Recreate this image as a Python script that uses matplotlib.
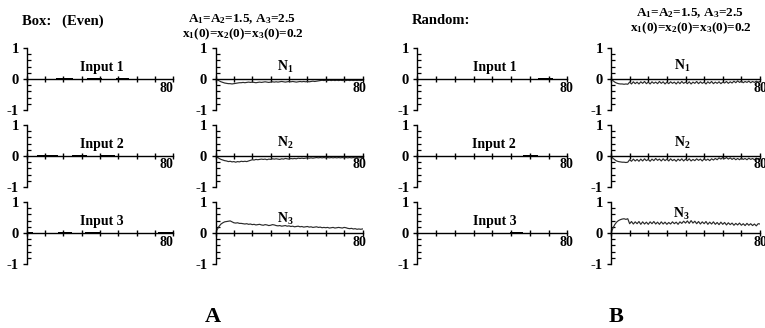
import matplotlib
matplotlib.use("Agg")
import matplotlib.pyplot as plt
from matplotlib.ticker import MultipleLocator

plt.rcParams['font.family'] = ['Liberation Serif', 'DejaVu Serif']
plt.rcParams['font.weight'] = 'bold'
plt.rcParams['mathtext.fontset'] = 'custom'
plt.rcParams['mathtext.rm'] = 'Liberation Serif:bold'
plt.rcParams['mathtext.it'] = 'Liberation Serif:bold'
plt.rcParams['mathtext.bf'] = 'Liberation Serif:bold'

# ---------------- data ----------------
t = list(range(81))

# input boxes (start, end) for each input, panel A (Box, even) and B (random)
inA1 = [(16, 25), (33, 41), (49, 56)]
inA2 = [(5.5, 17), (24.5, 33), (40, 48)]
inA3 = [(0, 3.5), (17, 24.5), (32, 40), (72, 80)]
inB1 = [(64.5, 72.5)]
inB2 = [(56.5, 64.5)]
inB3 = [(49.5, 56.5)]
box_height = 0.035

nA1 = [0, -0.03, -0.06, -0.09, -0.11, -0.13, -0.14, -0.15, -0.15, -0.16,
       -0.15, -0.14, -0.13, -0.12, -0.12, -0.11, -0.12, -0.11, -0.10, -0.11,
       -0.10, -0.11, -0.12, -0.11, -0.10, -0.11, -0.10, -0.09, -0.10, -0.11,
       -0.10, -0.09, -0.10, -0.09, -0.10, -0.09, -0.08, -0.09, -0.10, -0.09,
       -0.08, -0.09, -0.08, -0.09, -0.10, -0.09, -0.08, -0.09, -0.08, -0.09,
       -0.08, -0.09, -0.08, -0.07, -0.08, -0.07, -0.06, -0.05, -0.04, -0.05,
       -0.04, -0.05, -0.04, -0.05, -0.04, -0.05, -0.04, -0.05, -0.04, -0.05,
       -0.04, -0.05, -0.04, -0.05, -0.04, -0.05, -0.04, -0.05, -0.04, -0.05,
       -0.04]
nA2 = [0, -0.04, -0.08, -0.11, -0.13, -0.15, -0.16, -0.18, -0.17, -0.19,
       -0.18, -0.20, -0.18, -0.19, -0.17, -0.18, -0.17, -0.18, -0.16, -0.14,
       -0.12, -0.13, -0.11, -0.12, -0.11, -0.10, -0.11, -0.10, -0.12, -0.10,
       -0.11, -0.09, -0.10, -0.09, -0.10, -0.11, -0.09, -0.10, -0.08, -0.09,
       -0.10, -0.08, -0.09, -0.08, -0.09, -0.07, -0.08, -0.07, -0.08, -0.07,
       -0.06, -0.07, -0.06, -0.07, -0.06, -0.05, -0.06, -0.05, -0.06, -0.05,
       -0.06, -0.05, -0.06, -0.05, -0.06, -0.05, -0.06, -0.05, -0.06, -0.05,
       -0.06, -0.05, -0.06, -0.05, -0.06, -0.05, -0.06, -0.05, -0.06, -0.05,
       -0.05]
nA3 = [0, 0.12, 0.22, 0.29, 0.33, 0.36, 0.37, 0.38, 0.39, 0.36,
       0.33, 0.32, 0.33, 0.31, 0.31, 0.30, 0.29, 0.30, 0.28, 0.29,
       0.27, 0.28, 0.26, 0.27, 0.28, 0.26, 0.25, 0.27, 0.26, 0.24,
       0.25, 0.27, 0.26, 0.24, 0.23, 0.24, 0.22, 0.23, 0.24, 0.22,
       0.23, 0.21, 0.22, 0.20, 0.21, 0.22, 0.20, 0.21, 0.19, 0.20,
       0.21, 0.19, 0.20, 0.18, 0.19, 0.20, 0.18, 0.19, 0.17, 0.18,
       0.17, 0.18, 0.16, 0.17, 0.18, 0.16, 0.17, 0.18, 0.17, 0.16,
       0.18, 0.17, 0.15, 0.14, 0.15, 0.13, 0.14, 0.12, 0.13, 0.12,
       0.13]
nB1 = [0, -0.05, -0.10, -0.13, -0.15, -0.16, -0.16, -0.17, -0.16, -0.17,
       -0.10, -0.16, -0.09, -0.15, -0.10, -0.16, -0.09, -0.14, -0.08, -0.15,
       -0.10, -0.16, -0.09, -0.14, -0.10, -0.15, -0.08, -0.14, -0.09, -0.16,
       -0.10, -0.15, -0.09, -0.14, -0.10, -0.16, -0.09, -0.15, -0.08, -0.14,
       -0.10, -0.15, -0.09, -0.16, -0.10, -0.14, -0.08, -0.15, -0.09, -0.14,
       -0.10, -0.16, -0.09, -0.14, -0.08, -0.15, -0.10, -0.14, -0.09, -0.15,
       -0.10, -0.13, -0.08, -0.14, -0.09, -0.13, -0.07, -0.12, -0.06, -0.11,
       -0.07, -0.12, -0.08, -0.11, -0.07, -0.12, -0.08, -0.11, -0.07, -0.10,
       -0.08]
nB2 = [0, -0.07, -0.12, -0.16, -0.18, -0.19, -0.20, -0.20, -0.21, -0.20,
       -0.12, -0.17, -0.10, -0.16, -0.11, -0.17, -0.10, -0.16, -0.09, -0.15,
       -0.11, -0.17, -0.10, -0.15, -0.08, -0.14, -0.10, -0.16, -0.09, -0.15,
       -0.10, -0.16, -0.09, -0.15, -0.11, -0.17, -0.10, -0.15, -0.09, -0.16,
       -0.10, -0.15, -0.09, -0.16, -0.11, -0.15, -0.09, -0.14, -0.10, -0.16,
       -0.09, -0.14, -0.10, -0.15, -0.09, -0.13, -0.08, -0.12, -0.06, -0.10,
       -0.05, -0.09, -0.05, -0.10, -0.06, -0.11, -0.07, -0.12, -0.08, -0.12,
       -0.07, -0.11, -0.08, -0.12, -0.07, -0.11, -0.08, -0.12, -0.07, -0.11,
       -0.09]
nB3 = [0, 0.15, 0.27, 0.35, 0.40, 0.43, 0.45, 0.46, 0.44, 0.46,
       0.30, 0.37, 0.29, 0.36, 0.30, 0.37, 0.28, 0.36, 0.29, 0.35,
       0.28, 0.36, 0.30, 0.37, 0.29, 0.35, 0.28, 0.36, 0.29, 0.35,
       0.28, 0.34, 0.29, 0.36, 0.30, 0.35, 0.28, 0.36, 0.31, 0.38,
       0.32, 0.39, 0.31, 0.40, 0.32, 0.38, 0.30, 0.37, 0.29, 0.36,
       0.30, 0.37, 0.28, 0.35, 0.29, 0.36, 0.28, 0.34, 0.27, 0.35,
       0.28, 0.34, 0.26, 0.33, 0.27, 0.32, 0.25, 0.31, 0.26, 0.32,
       0.25, 0.30, 0.24, 0.31, 0.25, 0.30, 0.24, 0.29, 0.23, 0.30,
       0.29]

input_titles = ["Input 1", "Input 2", "Input 3"]
n_titles = ["N$_1$", "N$_2$", "N$_3$"]
ytick_labels = ["-1", "0", "1"]

# ---------------- layout ----------------
W, H = 765, 328
fig = plt.figure(figsize=(W / 100, H / 100), dpi=100)

col_left = [27, 215.5, 417.5, 611]
col_width = [146, 147, 150, 149]
row_top = [48, 125, 202]
row_h = 62
lab80_off = [-6.5, -3, -1.5, 0]
n_title_y = [[0.40, 0.42, 0.45], [0.42, 0.42, 0.62]]

line_col = '#2a2a2a'


def make_ax(ci, ri):
    l = col_left[ci] / W
    b = 1 - (row_top[ri] + row_h) / H
    ax = fig.add_axes([l, b, col_width[ci] / W, row_h / H])
    ax.set_xlim(0, 80)
    ax.set_ylim(-1, 1)
    ax.patch.set_alpha(0)
    for s in ['top', 'right']:
        ax.spines[s].set_visible(False)
    ax.spines['bottom'].set_position(('data', 0))
    ax.spines['left'].set_linewidth(1.0)
    ax.spines['bottom'].set_linewidth(1.0)
    ax.set_xticks(range(0, 81, 10))
    ax.set_xticklabels([])
    ax.tick_params(axis='x', which='major', direction='inout', length=4.5, width=1.0)
    ax.set_yticks([-1, 0, 1])
    ax.set_yticklabels(ytick_labels, fontsize=10.5, fontweight='bold')
    ax.yaxis.set_minor_locator(MultipleLocator(0.2))
    ax.tick_params(axis='y', which='major', direction='out', length=3, width=1.0, pad=3)
    ax.tick_params(axis='y', which='minor', direction='in', length=3, width=0.9)
    ax.annotate("80", xy=(80, 0), xytext=(lab80_off[ci], -9),
                textcoords='offset pixels', ha='center', va='center',
                fontsize=10, fontweight='bold', annotation_clip=False)
    return ax


inputs = [[inA1, inA2, inA3], [inB1, inB2, inB3]]
nseries = [[nA1, nA2, nA3], [nB1, nB2, nB3]]

for g in range(2):
    for r in range(3):
        ax = make_ax(2 * g, r)
        boxes = inputs[g][r]
        ax.bar([b0 for b0, b1 in boxes], [box_height] * len(boxes),
               width=[b1 - b0 for b0, b1 in boxes], bottom=0, align='edge',
               color='black', linewidth=0)
        ax.text(41, 0.38, input_titles[r], ha='center', va='center',
                fontsize=10, fontweight='bold')

        ax2 = make_ax(2 * g + 1, r)
        ax2.plot(t, nseries[g][r], color=line_col, lw=0.85)
        ax2.text(38, n_title_y[g][r], n_titles[r], ha='center', va='center',
                 fontsize=10, fontweight='bold')


def ftext(x, y, s, **kw):
    fig.text(x / W, 1 - y / H, s, **kw)


ftext(22, 21, "Box:   (Even)", ha='left', va='center', fontsize=10.5, fontweight='bold')
ftext(412, 20, "Random:", ha='left', va='center', fontsize=10.5, fontweight='bold')
ftext(242, 19, "A$_1$=A$_2$=1.5, A$_3$=2.5", ha='center', va='center', fontsize=9.5, fontweight='bold')
ftext(243, 34, "x$_1$(0)=x$_2$(0)=x$_3$(0)=0.2", ha='center', va='center', fontsize=9.5, fontweight='bold')
ftext(690, 13, "A$_1$=A$_2$=1.5, A$_3$=2.5", ha='center', va='center', fontsize=9.5, fontweight='bold')
ftext(691, 28, "x$_1$(0)=x$_2$(0)=x$_3$(0)=0.2", ha='center', va='center', fontsize=9.5, fontweight='bold')
ftext(213, 317, "A", ha='center', va='center', fontsize=16, fontweight='bold')
ftext(616, 317, "B", ha='center', va='center', fontsize=16, fontweight='bold')

fig.savefig("out.png", dpi=100)
